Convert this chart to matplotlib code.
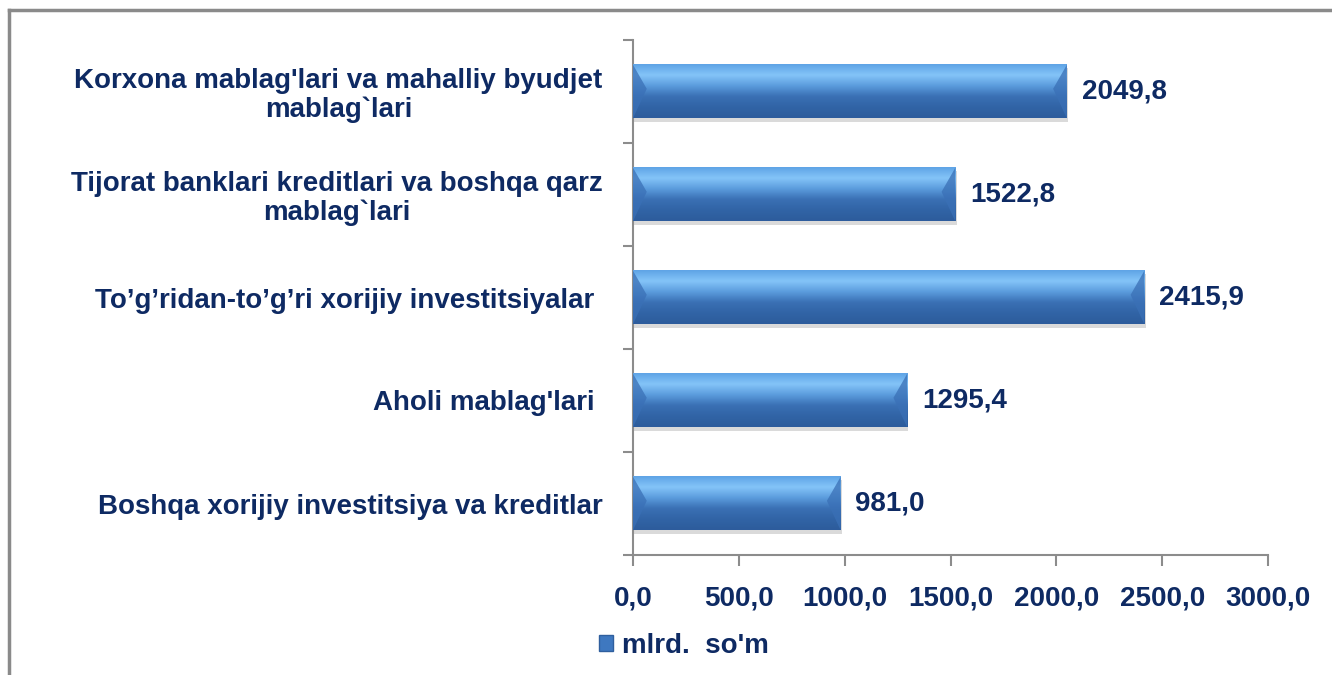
import numpy as np
import matplotlib.pyplot as plt
from matplotlib.colors import LinearSegmentedColormap
from matplotlib.lines import Line2D
from matplotlib.patches import Patch

# Data (top to bottom as shown)
categories = [
    "Korxona mablag'lari va mahalliy byudjet\nmablag`lari",
    "Tijorat banklari kreditlari va boshqa qarz\nmablag`lari",
    "To\u2019g\u2019ridan-to\u2019g\u2019ri xorijiy investitsiyalar ",
    "Aholi mablag'lari ",
    "Boshqa xorijiy investitsiya va kreditlar",
]
values = [2049.8, 1522.8, 2415.9, 1295.4, 981.0]
value_labels = ["2049,8", "1522,8", "2415,9", "1295,4", "981,0"]
x_ticks = [0, 500, 1000, 1500, 2000, 2500, 3000]
x_tick_labels = ["0,0", "500,0", "1000,0", "1500,0", "2000,0", "2500,0", "3000,0"]
legend_label = "mlrd.  so'm"

text_color = '#0E2A63'
axis_color = '#8C8C8C'
plt.rcParams['font.family'] = ['Liberation Sans', 'DejaVu Sans']

fig = plt.figure(figsize=(13.32, 6.75), dpi=100)
ax = fig.add_axes([633 / 1332, 1 - 555 / 675, 635 / 1332, 515 / 675])

ypos = np.arange(len(categories))
bar_h = 0.52

# shadow under bars
ax.barh(ypos + 0.035, values, height=bar_h, left=6, color='#dadada', zorder=1)
bars = ax.barh(ypos, values, height=bar_h, color='#3468AC', zorder=2)

# vertical gradient inside each bar
grad_cmap = LinearSegmentedColormap.from_list(
    'bar', ['#5FA4E6', '#84C4F8', '#5B9CDD', '#3A70B4', '#3164A6', '#2D5C9C'])
grad = np.linspace(0, 1, 100).reshape(-1, 1)
for b in bars:
    x0, y0, w, h = b.get_x(), b.get_y(), b.get_width(), b.get_height()
    ax.imshow(grad, cmap=grad_cmap, aspect='auto', zorder=3,
              extent=[x0, x0 + w, y0 + h, y0], interpolation='bicubic')
    # bevel corners at both ends
    d = 65
    ax.fill([x0, x0 + d, x0], [y0, y0 + h * 0.45, y0 + h], color='#3A70B6', alpha=0.75, zorder=4, lw=0)
    ax.fill([x0 + w, x0 + w - d, x0 + w], [y0, y0 + h * 0.45, y0 + h], color='#3A70B6', alpha=0.75, zorder=4, lw=0)

for yv, v, lab in zip(ypos, values, value_labels):
    ax.text(v + 70, yv, lab, va='center', ha='left', fontsize=20,
            fontweight='bold', color=text_color, zorder=5)

ax.set_xlim(0, 3000)
ax.set_ylim(len(categories) - 0.5, -0.5)
ax.set_xticks(x_ticks)
ax.set_xticklabels(x_tick_labels, fontsize=20, fontweight='bold', color=text_color)
ax.set_yticks(ypos)
ax.set_yticklabels(categories, fontsize=20, fontweight='bold', color=text_color,
                   multialignment='center', linespacing=1.12)
ax.set_yticks(np.arange(-0.5, len(categories)), minor=True)
ax.tick_params(axis='y', which='major', length=0, pad=22)
ax.tick_params(axis='y', which='minor', length=7, color=axis_color, width=1.5, direction='out')
ax.tick_params(axis='x', length=8, color=axis_color, width=1.5, direction='out', pad=14)

for s in ['top', 'right']:
    ax.spines[s].set_visible(False)
for s in ['left', 'bottom']:
    ax.spines[s].set_color(axis_color)
    ax.spines[s].set_linewidth(1.5)

# chart border
fig.add_artist(Line2D([9 / 1332, 9 / 1332], [0, 1 - 10 / 675], color='#8A8A8A', lw=2.5))
fig.add_artist(Line2D([9 / 1332, 1], [1 - 10 / 675, 1 - 10 / 675], color='#8A8A8A', lw=2.5))

handle = Patch(facecolor='#3E78C0', edgecolor='#2F5F9E')
fig.legend([handle], [legend_label], loc='center', bbox_to_anchor=(684 / 1332, 1 - 646 / 675),
           frameon=False, handlelength=0.5, handleheight=0.5, handletextpad=0.3,
           prop={'size': 20, 'weight': 'bold'}, labelcolor=text_color)

fig.savefig('out.png', dpi=100)
